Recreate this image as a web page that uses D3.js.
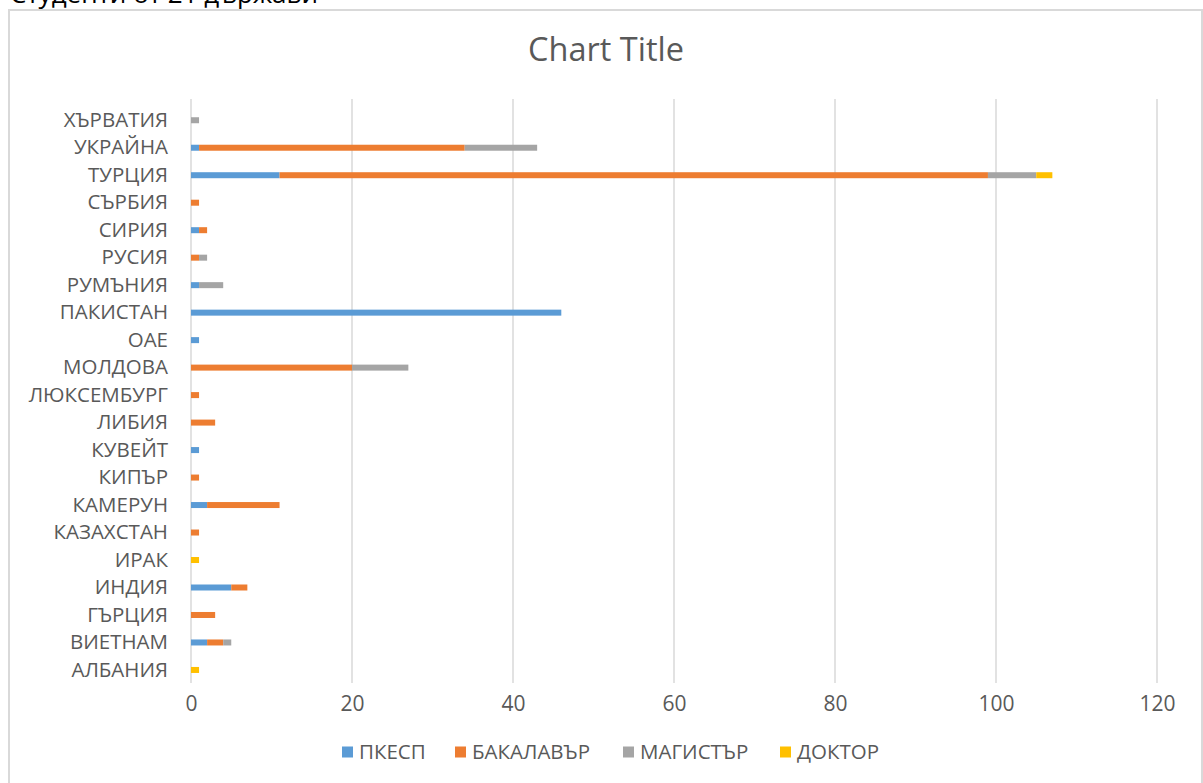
<!DOCTYPE html>
<html>
<head>
<meta charset="utf-8">
<script src="https://cdn.jsdelivr.net/npm/d3@7"></script>
<style>
  html, body { margin: 0; padding: 0; background: #fff; overflow: hidden; }
  svg { display: block; }
  text { font-family: "Open Sans", "Noto Sans", sans-serif; }
</style>
</head>
<body>
<svg id="chart" width="1203" height="783"></svg>
<script>
// Categories listed bottom-to-top (Excel order)
const categories = ["АЛБАНИЯ","ВИЕТНАМ","ГЪРЦИЯ","ИНДИЯ","ИРАК","КАЗАХСТАН","КАМЕРУН","КИПЪР","КУВЕЙТ","ЛИБИЯ","ЛЮКСЕМБУРГ","МОЛДОВА","ОАЕ","ПАКИСТАН","РУМЪНИЯ","РУСИЯ","СИРИЯ","СЪРБИЯ","ТУРЦИЯ","УКРАЙНА","ХЪРВАТИЯ"];
const seriesNames = ["ПКЕСП","БАКАЛАВЪР","МАГИСТЪР","ДОКТОР"];
const pkesp     = [0,2,0,5,0,0,2,0,1,0,0,0,1,46,1,0,1,0,11,1,0];
const bakalavar = [0,2,3,2,0,1,9,1,0,3,1,20,0,0,0,1,1,1,88,33,0];
const magistar  = [0,1,0,0,0,0,0,0,0,0,0,7,0,0,3,1,0,0,6,9,1];
const doktor    = [1,0,0,0,1,0,0,0,0,0,0,0,0,0,0,0,0,0,2,0,0];
const xTicks = [0,20,40,60,80,100,120];
const colors = ["#5B9BD5","#ED7D31","#A5A5A5","#FFC000"];
const chartTitle = "Chart Title";
const pageHeading = "Студенти от 21 държави";

const svg = d3.select("#chart");
const textColor = "#595959";

// cut-off heading above the chart (as in the reference)
svg.append("text").attr("x", 10).attr("y", 3)
  .attr("font-size", 26).attr("fill", "#000").text(pageHeading);

// chart border
svg.append("rect").attr("x", 9).attr("y", 10).attr("width", 1193).attr("height", 800)
  .attr("fill", "#fff").attr("stroke", "#d9d9d9").attr("stroke-width", 2);

const table = categories.map((c, i) => ({
  cat: c,
  [seriesNames[0]]: pkesp[i],
  [seriesNames[1]]: bakalavar[i],
  [seriesNames[2]]: magistar[i],
  [seriesNames[3]]: doktor[i]
}));
const stacked = d3.stack().keys(seriesNames)(table);

const x = d3.scaleLinear().domain([0, 120]).range([191, 1157]);
const y = d3.scaleBand().domain(categories).range([683.7, 106.5]);
const color = d3.scaleOrdinal().domain(seriesNames).range(colors);

// gridlines
svg.append("g").selectAll("line").data(xTicks).join("line")
  .attr("x1", d => x(d)).attr("x2", d => x(d))
  .attr("y1", 99).attr("y2", 683)
  .attr("stroke", "#d9d9d9").attr("stroke-width", 1.5);

// title
svg.append("text").attr("x", 606).attr("y", 61).attr("text-anchor", "middle")
  .attr("font-size", 32.5).attr("fill", textColor).text(chartTitle);

// bars
const barH = 6;
svg.append("g").selectAll("g").data(stacked).join("g")
  .attr("fill", d => color(d.key))
  .selectAll("rect").data(d => d).join("rect")
  .attr("x", d => x(d[0]))
  .attr("width", d => Math.max(0, x(d[1]) - x(d[0])))
  .attr("y", d => y(d.data.cat) + y.bandwidth() / 2 - barH / 2)
  .attr("height", barH);

// x axis labels
const xAxis = d3.axisBottom(x).tickValues(xTicks).tickSize(0).tickPadding(0);
const gx = svg.append("g").attr("transform", "translate(0,696)").call(xAxis);
gx.select(".domain").remove();
gx.selectAll("text").attr("font-size", 21).attr("fill", textColor)
  .attr("font-family", "'Open Sans', sans-serif").attr("dy", "0.71em");

// y axis labels
const yAxis = d3.axisLeft(y).tickSize(0).tickPadding(0);
const gy = svg.append("g").attr("transform", "translate(168,0)").call(yAxis);
gy.select(".domain").remove();
gy.selectAll("text").attr("font-size", 20.5).attr("fill", textColor)
  .attr("font-family", "'Open Sans', sans-serif");

// legend
const legendX = [342, 455, 623, 780];
const lg = svg.append("g").selectAll("g").data(seriesNames).join("g")
  .attr("transform", (d, i) => `translate(${legendX[i]},752)`);
lg.append("rect").attr("x", 0).attr("y", -5.5).attr("width", 11).attr("height", 11)
  .attr("fill", d => color(d));
lg.append("text").attr("x", 17).attr("y", 0).attr("dy", "0.35em")
  .attr("font-size", 20.5).attr("fill", textColor).text(d => d);
</script>
</body>
</html>
